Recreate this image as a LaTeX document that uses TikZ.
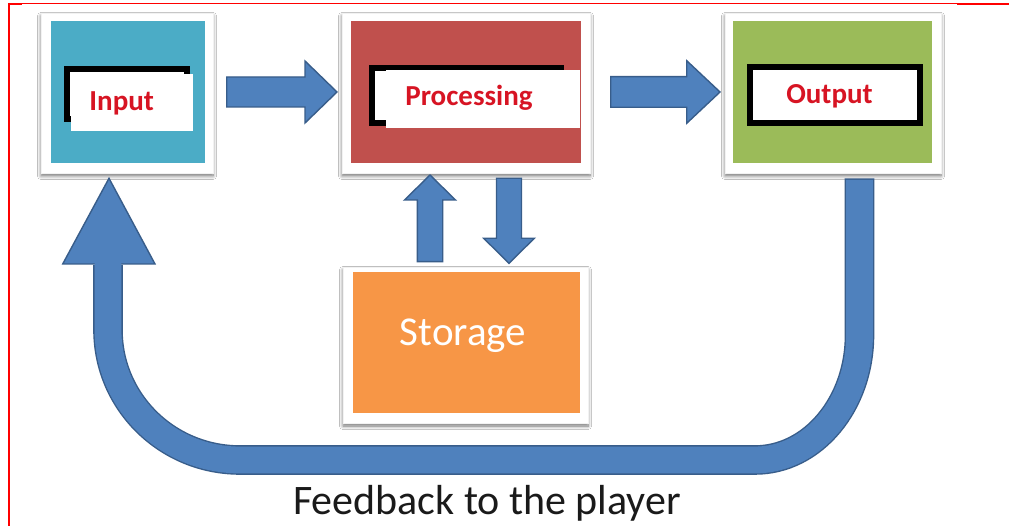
\documentclass[tikz,border=0pt]{standalone}
\usepackage{fontspec}
\setmainfont{Carlito}
\usetikzlibrary{calc,shadows.blur}
\definecolor{aquabox}{HTML}{4BACC6}
\definecolor{redbox}{HTML}{C0504D}
\definecolor{greenbox}{HTML}{9BBB59}
\definecolor{orangebox}{HTML}{F79646}
\definecolor{arrfill}{HTML}{4F81BD}
\definecolor{arrline}{HTML}{385D8A}
\definecolor{lbltext}{RGB}{215,20,35}
\definecolor{frameline}{RGB}{255,0,0}
\definecolor{captiontext}{HTML}{1A1A1A}
\tikzset{
  card/.style={rectangle, fill=white, draw=black!5, line width=0.5pt, inner sep=0pt,
    blur shadow={shadow xshift=0pt, shadow yshift=-3pt, shadow blur steps=8,
      shadow blur radius=3.5pt, shadow opacity=55}},
  colbox/.style={rectangle, inner sep=0pt, draw=none},
  lblframe/.style={rectangle, inner sep=0pt, draw=black, fill=white, line width=6pt},
  lblwhite/.style={rectangle, inner sep=0pt, fill=white, draw=none},
  lbl/.style={inner sep=0pt, anchor=base, text=lbltext,
    font=\fontsize{29}{33}\selectfont\bfseries},
  barrow/.style={fill=arrfill, draw=arrline, line width=1.4pt, line join=miter},
}
\newcommand\blockarrow[5]{%
  \coordinate (ba-h) at ($(#2)!#5!(#1)$);
  \draw[barrow] ($(#1)!#3!90:(#2)$) -- ($(ba-h)!#3!90:(#2)$) -- ($(ba-h)!#4!90:(#2)$)
    -- (#2) -- ($(ba-h)!#4!-90:(#2)$) -- ($(ba-h)!#3!-90:(#2)$) -- ($(#1)!#3!-90:(#2)$) -- cycle;}
\begin{document}
\begin{tikzpicture}[x=1pt,y=-1pt]
\useasboundingbox (0,0) rectangle (1009,526);
\fill[white] (0,0) rectangle (1009,526);
% red border
\draw[frameline, line width=1pt] (8,3.5) -- (1009,3.5);
\draw[frameline, line width=2.4pt] (8,3.8) -- (22,3.8);
\draw[frameline, line width=2.4pt] (957,3.8) -- (1009,3.8);
\draw[frameline, line width=2pt] (9,3) -- (9,526);

% cards
\node[card, minimum width=172pt, minimum height=160pt] (incard) at (127,93) {};
\node[colbox, fill=aquabox, minimum width=154pt, minimum height=142pt] (in) at (128,92) {};
\node[card, minimum width=248pt, minimum height=160pt] (proccard) at (466,93) {};
\node[colbox, fill=redbox, minimum width=230pt, minimum height=142pt] (proc) at (466,92) {};
\node[card, minimum width=216pt, minimum height=160pt] (outcard) at (833,93) {};
\node[colbox, fill=greenbox, minimum width=199pt, minimum height=142pt] (out) at (832.5,92) {};
\node[card, minimum width=245pt, minimum height=156pt] (stcard) at (465.5,345) {};
\node[colbox, fill=orangebox, minimum width=227pt, minimum height=141pt] (st) at (466.3,342.2) {};

% label frames
\node[lblframe, minimum width=120pt, minimum height=50pt] (inframe) at (127,94) {};
\node[lblwhite, minimum width=122.3pt, minimum height=57pt] (inwhite) at (131.85,102.5) {};
\node[lblframe, minimum width=189pt, minimum height=55pt] (procframe) at (466.5,95.5) {};
\node[lblwhite, minimum width=194pt, minimum height=58pt] (procwhite) at (483,99) {};
\node[lblframe, minimum width=170pt, minimum height=56pt] (outframe) at (835,95) {};

% labels
\node[lbl] (tin) at (121.7,110.7) {Input};
\node[lbl] (tproc) at (469,106) {Processing};
\node[lbl] (tout) at (829.5,104) {Output};
\node[inner sep=0pt, anchor=base, text=white, font=\fontsize{41}{46}\selectfont] (tst) at (463,345.7) {Storage};
\node[inner sep=0pt, anchor=base, text=captiontext, font=\fontsize{42}{48}\selectfont] (tfb) at (487,514) {Feedback to the player};

% straight block arrows
\coordinate (a1s) at (226.7,92);
\coordinate (a1t) at (337,92);
\coordinate (a2s) at (610.7,92);
\coordinate (a2t) at (720,92);
\coordinate (a3s) at (430,261.7);
\coordinate (a3t) at (430,175);
\coordinate (a4s) at (509,178.3);
\coordinate (a4t) at (509,263.3);
\blockarrow{a1s}{a1t}{15pt}{31pt}{32pt}
\blockarrow{a2s}{a2t}{15.3pt}{31.3pt}{33.3pt}
\blockarrow{a3s}{a3t}{12.7pt}{25.5pt}{25pt}
\blockarrow{a4s}{a4t}{12.5pt}{25.3pt}{25pt}

% feedback U arrow
\coordinate (fbs) at (859.5,178.3);
\coordinate (fbs2) at (859.5,179.8);
\coordinate (fbr) at (859.5,335);
\coordinate (fbb1) at (755,460);
\coordinate (fbb2) at (240,460);
\coordinate (fbl) at (108,330);
\coordinate (fbe) at (108,265);
\coordinate (fbe2) at (108,262);
\coordinate (fbtip) at (109,178.3);
\draw[arrline, line width=29.6pt, line cap=butt]
  (fbs) -- (fbr) .. controls (859.5,404) and (812.7,460) .. (fbb1) -- (fbb2)
  .. controls (167.1,460) and (108,401.8) .. (fbl) -- (fbe);
\draw[barrow] (62.7,264) -- (fbtip) -- (155,264) -- cycle;
\draw[arrfill, line width=26.8pt, line cap=butt]
  (fbs2) -- (fbr) .. controls (859.5,404) and (812.7,460) .. (fbb1) -- (fbb2)
  .. controls (167.1,460) and (108,401.8) .. (fbl) -- (fbe2);
\end{tikzpicture}
\end{document}
